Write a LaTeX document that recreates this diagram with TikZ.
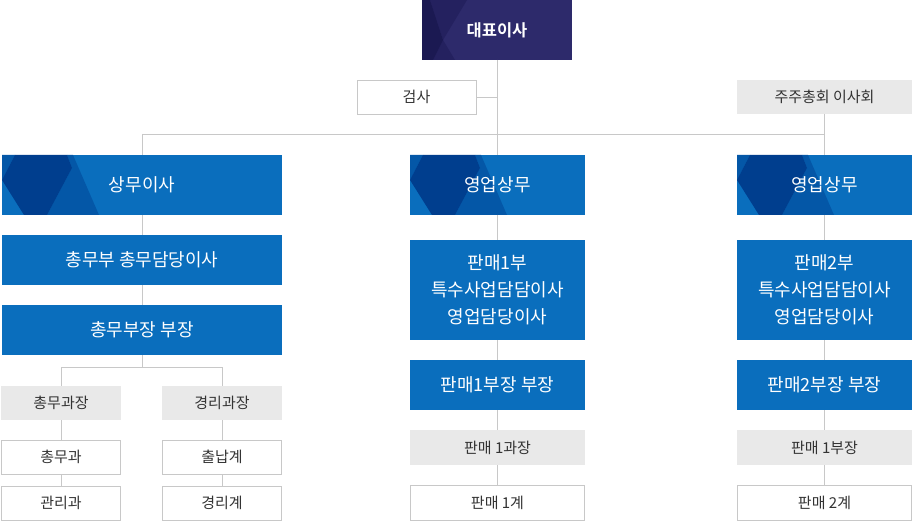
\documentclass[tikz,border=0pt]{standalone}
\usepackage{fontspec}
\setmainfont{Noto Sans CJK KR}
\newfontfamily\krb{Noto Sans CJK KR}[BoldFont=* Bold]
\definecolor{indigo}{HTML}{2D2A6B}
\definecolor{indigoD}{HTML}{1B1952}
\definecolor{indigoM}{HTML}{24215F}
\definecolor{blueB}{HTML}{0A6EBD}
\definecolor{blueD}{HTML}{003E8E}
\definecolor{blueM}{HTML}{0457A7}
\definecolor{grayF}{HTML}{E9E9E9}
\definecolor{lineC}{HTML}{C8C8C8}
\definecolor{txt}{HTML}{333333}
\newcommand{\bluedeco}[2]{%
  \begin{scope}[shift={(#1,#2)}]
    \fill[blueM] (0,0) -- (13,0) -- (0,25) -- cycle;
    \fill[blueM] (65,0) -- (71,0) -- (97,60) -- (45,60) -- (70,13) -- cycle;
    \fill[blueD] (13,0) -- (65,0) -- (70,13) -- (45,60) -- (22,60) -- (0,25) -- cycle;
  \end{scope}}
\begin{document}
\begin{tikzpicture}[x=1pt,y=-1pt,
  base/.style={inner sep=0pt,outer sep=0pt,align=center},
  btext/.style={base,text=white,font=\fontsize{18}{27}\selectfont},
  bluebox/.style={btext,fill=blueB},
  graybox/.style={base,fill=grayF,text=txt,font=\fontsize{15}{17}\selectfont,minimum height=34pt},
  whitebox/.style={base,fill=white,draw=lineC,line width=0.9pt,text=txt,font=\fontsize{15}{17}\selectfont,minimum height=34pt},
  conn/.style={draw=lineC,line width=0.9pt},
  ]
\useasboundingbox (0,0) rectangle (913,521);
\fill[white] (0,0) rectangle (913,521);
% top box
\node[base,fill=indigo,minimum width=150pt,minimum height=60pt] (ceo) at (497,30) {};
\begin{scope}[shift={(422,0)}]
  \fill[indigoM] (8,0) -- (45,0) -- (21,40) -- cycle;
  \fill[indigoM] (21,40) -- (33,60) -- (11,60) -- cycle;
  \fill[indigoD] (0,0) -- (8,0) -- (21,40) -- (11,60) -- (0,60) -- cycle;
\end{scope}
\node[base,text=white,font=\krb\bfseries\fontsize{16.5}{18}\selectfont] at (ceo.center) {대표이사};
% second row
\node[whitebox,minimum width=119pt] (gamsa) at (416.5,97) {검사};
\node[graybox,minimum width=175pt] (board) at (824.5,97) {주주총회 이사회};
% left column
\node[base,fill=blueB,minimum width=280pt,minimum height=60pt] (l1) at (142,185) {};
\bluedeco{2}{155}
\node[btext] at (l1.center) {상무이사};
\node[bluebox,minimum width=280pt,minimum height=50pt] (l2) at (142,260) {총무부 총무담당이사};
\node[bluebox,minimum width=280pt,minimum height=50pt] (l3) at (142,330) {총무부장 부장};
\node[graybox,minimum width=120pt] (g1) at (61,403) {총무과장};
\node[graybox,minimum width=120pt] (g2) at (222,403) {경리과장};
\node[whitebox,minimum width=119pt] (w1) at (61,457) {총무과};
\node[whitebox,minimum width=119pt] (w2) at (61,503) {관리과};
\node[whitebox,minimum width=119pt] (w3) at (222,457) {출납계};
\node[whitebox,minimum width=119pt] (w4) at (222,503) {경리계};
% middle column
\node[base,fill=blueB,minimum width=175pt,minimum height=60pt] (m1) at (497.5,185) {};
\bluedeco{410}{155}
\node[btext] at (m1.center) {영업상무};
\node[bluebox,minimum width=175pt,minimum height=100pt] (m2) at (497.5,290) {판매1부\\특수사업담담이사\\영업담당이사};
\node[bluebox,minimum width=175pt,minimum height=50pt] (m3) at (497.5,385) {판매1부장 부장};
\node[graybox,minimum width=175pt,minimum height=35pt] (m4) at (497.5,447.5) {판매 1과장};
\node[whitebox,minimum width=174pt,minimum height=35pt] (m5) at (497.5,502.5) {판매 1계};
% right column
\node[base,fill=blueB,minimum width=175pt,minimum height=60pt] (r1) at (824.5,185) {};
\bluedeco{737}{155}
\node[btext] at (r1.center) {영업상무};
\node[bluebox,minimum width=175pt,minimum height=100pt] (r2) at (824.5,290) {판매2부\\특수사업담담이사\\영업담당이사};
\node[bluebox,minimum width=175pt,minimum height=50pt] (r3) at (824.5,385) {판매2부장 부장};
\node[graybox,minimum width=175pt,minimum height=35pt] (r4) at (824.5,447.5) {판매 1부장};
\node[whitebox,minimum width=174pt,minimum height=35pt] (r5) at (824.5,502.5) {판매 2계};
% connectors
\coordinate (hl) at (142,134);
\coordinate (hr) at (824.5,134);
\coordinate (gj) at (497.5,97);
\coordinate (lj) at (142,367);
\coordinate (lj1) at (61,367);
\coordinate (lj2) at (222,367);
\draw[conn] (ceo.south -| m1.north) -- (m1.north);
\draw[conn] (gamsa.east) -- (gj);
\draw[conn] (hl) -- (hr);
\draw[conn] (hl) -- (l1.north);
\draw[conn] (board.south) -- (r1.north);
\draw[conn] (l1.south) -- (l2.north);
\draw[conn] (l2.south) -- (l3.north);
\draw[conn] (l3.south) -- (lj);
\draw[conn] (lj1) -- (lj2);
\draw[conn] (lj1) -- (g1.north);
\draw[conn] (lj2) -- (g2.north);
\draw[conn] (g1.south) -- (w1.north);
\draw[conn] (w1.south) -- (w2.north);
\draw[conn] (g2.south) -- (w3.north);
\draw[conn] (w3.south) -- (w4.north);
\draw[conn] (m1.south) -- (m2.north);
\draw[conn] (m2.south) -- (m3.north);
\draw[conn] (m3.south) -- (m4.north);
\draw[conn] (m4.south) -- (m5.north);
\draw[conn] (r1.south) -- (r2.north);
\draw[conn] (r2.south) -- (r3.north);
\draw[conn] (r3.south) -- (r4.north);
\draw[conn] (r4.south) -- (r5.north);
\end{tikzpicture}
\end{document}
